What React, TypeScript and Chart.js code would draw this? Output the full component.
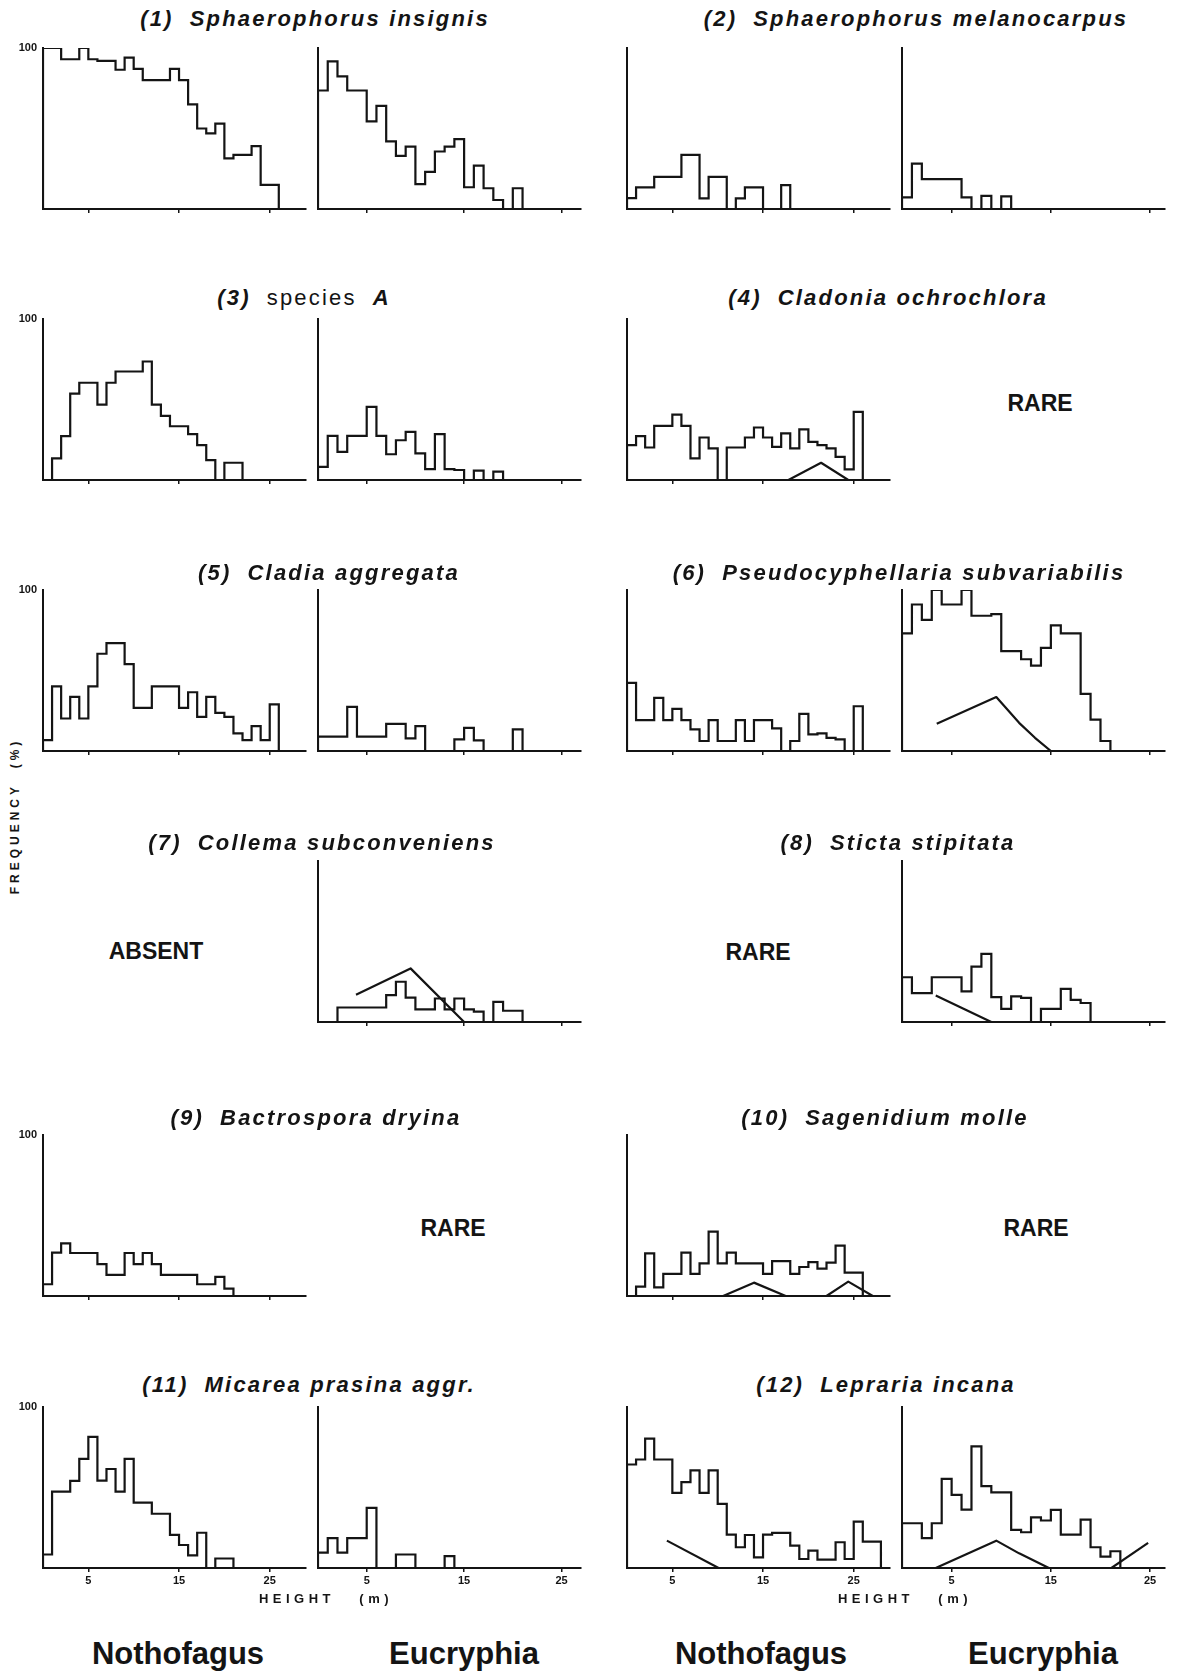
import React, { useEffect, useRef } from 'react';
import { Chart, registerables } from 'chart.js';

Chart.register(...registerables);

// Frequency (%) per 1 m height class; index 0 is the 0–1 m class.
const HEIGHT_TICKS = [5, 15, 25];
const NOTH_MAX_HEIGHT = 29;
const EUC_MAX_HEIGHT_LEFT = 27;
const EUC_MAX_HEIGHT_RIGHT = 26.5;

// (1) Sphaerophorus insignis
const sphInsNoth = [100, 100, 93, 93, 100, 93, 92, 92, 86.5, 94, 87, 80, 80, 80, 87, 80, 65, 50, 47, 53, 31.5, 33.6, 33.6, 39, 15, 15];
const sphInsEuc = [73.6, 91.7, 82.4, 73.6, 73.6, 54.4, 64, 42, 33, 38.8, 15.4, 23, 35.7, 38.8, 43.4, 13.5, 27, 12.9, 5.6, 0, 12.9];
// (2) Sphaerophorus melanocarpus
const sphMelNoth = [6.8, 13.4, 13.4, 20, 20, 20, 33.6, 33.6, 6.6, 20, 20, 0, 6.6, 13.4, 13.4, 0, 0, 14.8];
const sphMelEuc = [7.2, 28.2, 18.6, 18.6, 18.6, 18.6, 7.2, 0, 8.2, 0, 7.8];
// (3) species A
const spANoth = [0, 13.4, 27.2, 53.6, 60.4, 60.4, 46.8, 60.4, 67.4, 67.4, 67.4, 73.6, 46.8, 39.8, 33.4, 33.4, 28.5, 21.6, 12.4, 0, 10.7, 10.7];
const spAEuc = [8.2, 27.4, 17.5, 27.4, 27.4, 45.4, 27.4, 16, 24.7, 29.9, 16.5, 6.8, 28.5, 6.8, 6.2, 0, 5.8, 0, 5.2];
// (4) Cladonia ochrochlora
const claOchNoth = [21.6, 27.2, 20.2, 33.6, 33.6, 40.6, 33.6, 13.4, 26.4, 19.6, 0, 20.2, 20.2, 26.4, 32.6, 26.4, 20.6, 28.9, 19.6, 31.5, 23.7, 21.6, 19.6, 14.4, 6.6, 42.3];
const claOchNothTrend: [number, number][] = [[17.8, 0], [21.4, 10.7], [24.4, 0]];
// (5) Cladia aggregata
const claAggNoth = [6.8, 40.2, 20.2, 33.6, 20.2, 40.2, 60.4, 67, 67, 54, 26.8, 26.8, 40.2, 40.2, 40.2, 26.8, 36.5, 21.2, 33.6, 23.7, 21.2, 10.9, 6.8, 15.5, 6.8, 28.9];
const claAggEuc = [8.9, 8.9, 8.9, 27.4, 8.9, 8.9, 8.9, 16.9, 16.9, 7.8, 15.5, 0, 0, 0, 7.2, 14.4, 6.6, 0, 0, 0, 13.4];
// (6) Pseudocyphellaria subvariabilis
const pseSubNoth = [42.3, 19.2, 19.2, 33, 19.2, 26.2, 19.2, 13.4, 6.2, 19.2, 6.2, 6.2, 19.2, 6.2, 19.2, 19.2, 14, 0, 6.2, 23.1, 10.3, 10.9, 8.2, 7.2, 0, 27.8];
const pseSubEuc = [73, 91, 81.5, 100, 91, 91, 100, 84, 84, 85, 62, 62, 57, 53, 64, 78, 73, 73, 35.5, 19.5, 6.2];
const pseSubEucTrend: [number, number][] = [[3.5, 17], [9.5, 33.5], [11.8, 17.5], [13.4, 8.2], [15, 0]];
// (7) Collema subconveniens
const colSubEuc = [0, 0, 9, 9, 9, 9, 9, 16.7, 25, 15.2, 7.9, 7.9, 14.6, 7.9, 14.6, 7.9, 6.5, 0, 12.5, 7, 7];
const colSubEucTrend: [number, number][] = [[3.9, 16.9], [9.5, 33.3], [15, 0]];
// (8) Sticta stipitata
const stiStiEuc = [27.8, 17.9, 17.9, 27.8, 27.8, 27.8, 19, 34.4, 42.3, 15.5, 8.2, 15.9, 15, 0, 8.2, 8.2, 20.6, 13.8, 11.8];
const stiStiEucTrend: [number, number][] = [[3.4, 16.5], [6.2, 8.2], [9, 0]];
// (9) Bactrospora dryina
const bacDryNoth = [7.3, 27, 32.7, 26.7, 26.7, 26.7, 19.8, 13.1, 13.1, 26.7, 19.8, 26.7, 19.8, 13.1, 13.1, 13.1, 13.1, 7.3, 7.3, 11.9, 4.6];
// (10) Sagenidium molle
const sagMolNoth = [0, 5.8, 26.5, 5.4, 13.7, 13.7, 26.9, 13.7, 20.3, 40, 20.3, 26.9, 20.3, 20.3, 20.3, 13.7, 21.7, 21.7, 13.7, 18, 21.1, 17, 20.7, 31.3, 14.5, 14.5];
const sagMolNothTrendA: [number, number][] = [[10.6, 0], [14, 8.3], [17.5, 0]];
const sagMolNothTrendB: [number, number][] = [[22, 0], [24.4, 8.9], [27.1, 0]];
// (11) Micarea prasina aggr.
const micPraNoth = [8.4, 47.4, 47.4, 54.1, 67.8, 81.5, 54.3, 61.5, 47.4, 67.8, 40.6, 40.6, 33.7, 33.7, 20.6, 14.3, 7.8, 21.9, 0, 5.9, 5.9];
const micPraEuc = [9.5, 18.5, 9.5, 18.5, 18.5, 37.4, 0, 0, 8.4, 8.4, 0, 0, 0, 7.4];
// (12) Lepraria incana
const lepIncNoth = [64.3, 67.4, 80.3, 67.4, 67.4, 46.7, 53.3, 60.6, 46.7, 60.6, 39.8, 20.7, 12.9, 20.5, 6.6, 20.7, 21.8, 21.8, 13.9, 5.6, 10.8, 5.2, 5.2, 16, 5.6, 28.8, 16.4, 16.4];
const lepIncNothTrend: [number, number][] = [[4.4, 17], [10.1, 0]];
const lepIncEuc = [27.8, 27.8, 18.5, 27.8, 55.4, 45.4, 36.3, 75.5, 50.8, 47, 47, 23.7, 22.2, 31.5, 29.5, 36.1, 20.7, 20.7, 30.1, 12.9, 7.1, 10.4];
const lepIncEucTrendA: [number, number][] = [[3.4, 0], [9.5, 17], [11.8, 9.1], [14.8, 0]];
const lepIncEucTrendB: [number, number][] = [[21.1, 0], [24.8, 15.6]];

// ---- layout ----
const INK = '#141414';
const FONT = "'Liberation Sans', Arial, Helvetica, sans-serif";
const COL_X = [43, 318, 627, 902];
const ROW_TOP = [48, 319, 590, 861, 1135, 1407];
const PLOT_W = 263;
const PLOT_H = 161;
const PAD_L = 8;
const PAD_R = 8;
const PAD_T = 8;
const X_AXIS_H = 24;

interface PanelSpec {
  row: number;
  col: number;
  hist: number[];
  xMax: number;
  trends?: [number, number][][];
}

const PANELS: PanelSpec[] = [
  { row: 0, col: 0, hist: sphInsNoth, xMax: NOTH_MAX_HEIGHT },
  { row: 0, col: 1, hist: sphInsEuc, xMax: EUC_MAX_HEIGHT_LEFT },
  { row: 0, col: 2, hist: sphMelNoth, xMax: NOTH_MAX_HEIGHT },
  { row: 0, col: 3, hist: sphMelEuc, xMax: EUC_MAX_HEIGHT_RIGHT },
  { row: 1, col: 0, hist: spANoth, xMax: NOTH_MAX_HEIGHT },
  { row: 1, col: 1, hist: spAEuc, xMax: EUC_MAX_HEIGHT_LEFT },
  { row: 1, col: 2, hist: claOchNoth, xMax: NOTH_MAX_HEIGHT, trends: [claOchNothTrend] },
  { row: 2, col: 0, hist: claAggNoth, xMax: NOTH_MAX_HEIGHT },
  { row: 2, col: 1, hist: claAggEuc, xMax: EUC_MAX_HEIGHT_LEFT },
  { row: 2, col: 2, hist: pseSubNoth, xMax: NOTH_MAX_HEIGHT },
  { row: 2, col: 3, hist: pseSubEuc, xMax: EUC_MAX_HEIGHT_RIGHT, trends: [pseSubEucTrend] },
  { row: 3, col: 1, hist: colSubEuc, xMax: EUC_MAX_HEIGHT_LEFT, trends: [colSubEucTrend] },
  { row: 3, col: 3, hist: stiStiEuc, xMax: EUC_MAX_HEIGHT_RIGHT, trends: [stiStiEucTrend] },
  { row: 4, col: 0, hist: bacDryNoth, xMax: NOTH_MAX_HEIGHT },
  { row: 4, col: 2, hist: sagMolNoth, xMax: NOTH_MAX_HEIGHT, trends: [sagMolNothTrendA, sagMolNothTrendB] },
  { row: 5, col: 0, hist: micPraNoth, xMax: NOTH_MAX_HEIGHT },
  { row: 5, col: 1, hist: micPraEuc, xMax: EUC_MAX_HEIGHT_LEFT },
  { row: 5, col: 2, hist: lepIncNoth, xMax: NOTH_MAX_HEIGHT, trends: [lepIncNothTrend] },
  { row: 5, col: 3, hist: lepIncEuc, xMax: EUC_MAX_HEIGHT_RIGHT, trends: [lepIncEucTrendA, lepIncEucTrendB] },
];

type Seg = { text: string; style: 'bi' | 'r' };
const TITLES: { segs: Seg[]; x: number; y: number }[] = [
  { segs: [{ text: '(1)', style: 'bi' }, { text: 'Sphaerophorus insignis', style: 'bi' }], x: 315, y: 19 },
  { segs: [{ text: '(2)', style: 'bi' }, { text: 'Sphaerophorus melanocarpus', style: 'bi' }], x: 916, y: 19 },
  { segs: [{ text: '(3)', style: 'bi' }, { text: 'species', style: 'r' }, { text: 'A', style: 'bi' }], x: 304, y: 298 },
  { segs: [{ text: '(4)', style: 'bi' }, { text: 'Cladonia ochrochlora', style: 'bi' }], x: 888, y: 298 },
  { segs: [{ text: '(5)', style: 'bi' }, { text: 'Cladia aggregata', style: 'bi' }], x: 329, y: 573 },
  { segs: [{ text: '(6)', style: 'bi' }, { text: 'Pseudocyphellaria subvariabilis', style: 'bi' }], x: 899, y: 573 },
  { segs: [{ text: '(7)', style: 'bi' }, { text: 'Collema subconveniens', style: 'bi' }], x: 322, y: 843 },
  { segs: [{ text: '(8)', style: 'bi' }, { text: 'Sticta stipitata', style: 'bi' }], x: 898, y: 843 },
  { segs: [{ text: '(9)', style: 'bi' }, { text: 'Bactrospora dryina', style: 'bi' }], x: 316, y: 1118 },
  { segs: [{ text: '(10)', style: 'bi' }, { text: 'Sagenidium molle', style: 'bi' }], x: 885, y: 1118 },
  { segs: [{ text: '(11)', style: 'bi' }, { text: 'Micarea prasina aggr.', style: 'bi' }], x: 309, y: 1385 },
  { segs: [{ text: '(12)', style: 'bi' }, { text: 'Lepraria incana', style: 'bi' }], x: 886, y: 1385 },
];

const STATUS_LABELS = [
  { text: 'RARE', x: 1040, y: 403 },
  { text: 'ABSENT', x: 156, y: 951 },
  { text: 'RARE', x: 758, y: 952 },
  { text: 'RARE', x: 453, y: 1228 },
  { text: 'RARE', x: 1036, y: 1228 },
];

const FULL_SCALE_ROWS = [0, 1, 2, 4, 5];

const FOREST_LABELS = [
  { text: 'Nothofagus', x: 178 },
  { text: 'Eucryphia', x: 464 },
  { text: 'Nothofagus', x: 761 },
  { text: 'Eucryphia', x: 1043 },
];

function stepPoints(values: number[]) {
  const pts = [{ x: 0, y: 0 }];
  values.forEach((v, i) => pts.push({ x: i, y: v }));
  pts.push({ x: values.length, y: 0 });
  return pts;
}

function HistPanel({ spec }: { spec: PanelSpec }) {
  const ref = useRef<HTMLCanvasElement>(null);
  const showLabels = spec.row === 5;

  useEffect(() => {
    if (!ref.current) return;
    const lineStyle = {
      borderColor: INK,
      borderWidth: 2.2,
      pointRadius: 0,
      fill: false,
      tension: 0,
      borderJoinStyle: 'miter' as const,
      borderCapStyle: 'butt' as const,
    };
    const datasets: any[] = [
      { ...lineStyle, data: stepPoints(spec.hist), stepped: true },
      ...(spec.trends || []).map((t) => ({
        ...lineStyle,
        borderJoinStyle: 'round' as const,
        data: t.map(([x, y]) => ({ x, y })),
      })),
    ];
    const chart = new Chart(ref.current, {
      type: 'line',
      data: { datasets },
      options: {
        animation: false,
        responsive: false,
        devicePixelRatio: 1,
        events: [],
        layout: { padding: { left: PAD_L, right: PAD_R, top: PAD_T, bottom: 0 } },
        plugins: { legend: { display: false }, tooltip: { enabled: false } },
        scales: {
          x: {
            type: 'linear',
            min: 0,
            max: spec.xMax,
            afterBuildTicks: (s: any) => {
              s.ticks = HEIGHT_TICKS.map((v) => ({ value: v }));
            },
            afterFit: (s: any) => {
              s.height = X_AXIS_H;
            },
            grid: { display: true, drawOnChartArea: false, drawTicks: true, tickLength: 4, color: INK, lineWidth: 1.5 },
            border: { display: true, color: INK, width: 2 },
            ticks: {
              display: showLabels,
              autoSkip: false,
              maxRotation: 0,
              padding: 2,
              color: INK,
              font: { family: FONT, size: 11, weight: 'bold' },
              callback: (v: any) => String(v),
            },
          },
          y: {
            type: 'linear',
            min: 0,
            max: 100,
            afterFit: (s: any) => {
              s.width = 0;
            },
            grid: { display: false, drawTicks: false },
            border: { display: true, color: INK, width: 2 },
            ticks: { display: false },
          },
        },
      } as any,
    });
    return () => chart.destroy();
  }, [spec]);

  return (
    <canvas
      ref={ref}
      width={PLOT_W + PAD_L + PAD_R}
      height={PAD_T + PLOT_H + X_AXIS_H}
      style={{ position: 'absolute', left: COL_X[spec.col] - PAD_L, top: ROW_TOP[spec.row] - PAD_T }}
    />
  );
}

const centered: React.CSSProperties = {
  position: 'absolute',
  transform: 'translate(-50%, -50%)',
  whiteSpace: 'nowrap',
  lineHeight: 1,
  color: INK,
  fontFamily: FONT,
};

export default function App() {
  return (
    <div style={{ position: 'absolute', left: 0, top: 0, width: 1186, height: 1672, background: '#fff', overflow: 'hidden' }}>
      {PANELS.map((p, i) => (
        <HistPanel key={i} spec={p} />
      ))}

      {TITLES.map((t, i) => (
        <div key={i} style={{ ...centered, left: t.x, top: t.y, fontSize: 22 }}>
          {t.segs.map((s, j) => (
            <span
              key={j}
              style={{
                fontWeight: s.style === 'bi' ? 'bold' : 'normal',
                fontStyle: s.style === 'bi' ? 'italic' : 'normal',
                letterSpacing: s.style === 'bi' ? 2.2 : 2.2,
                marginLeft: j === 0 ? 0 : 16,
              }}
            >
              {s.text}
            </span>
          ))}
        </div>
      ))}

      {FULL_SCALE_ROWS.map((r) => (
        <div key={r} style={{ position: 'absolute', right: 1186 - 37, top: ROW_TOP[r] - 6, fontFamily: FONT, fontWeight: 'bold', fontSize: 11, lineHeight: 1, color: INK }}>
          100
        </div>
      ))}

      {STATUS_LABELS.map((s, i) => (
        <div key={i} style={{ ...centered, left: s.x, top: s.y, fontSize: 23, fontWeight: 'bold' }}>
          {s.text}
        </div>
      ))}

      <div style={{ ...centered, left: 15, top: 816, fontSize: 12, fontWeight: 'bold', letterSpacing: 4, transform: 'translate(-50%, -50%) rotate(-90deg)' }}>
        FREQUENCY&nbsp;&nbsp;(%)
      </div>

      {[326, 905].map((x) => (
        <div key={x} style={{ ...centered, left: x, top: 1598, fontSize: 13, fontWeight: 'bold', letterSpacing: 4.5 }}>
          HEIGHT&nbsp;&nbsp;&nbsp;(m)
        </div>
      ))}

      {FOREST_LABELS.map((f, i) => (
        <div key={i} style={{ ...centered, left: f.x, top: 1653, fontSize: 31, fontWeight: 'bold' }}>
          {f.text}
        </div>
      ))}
    </div>
  );
}
